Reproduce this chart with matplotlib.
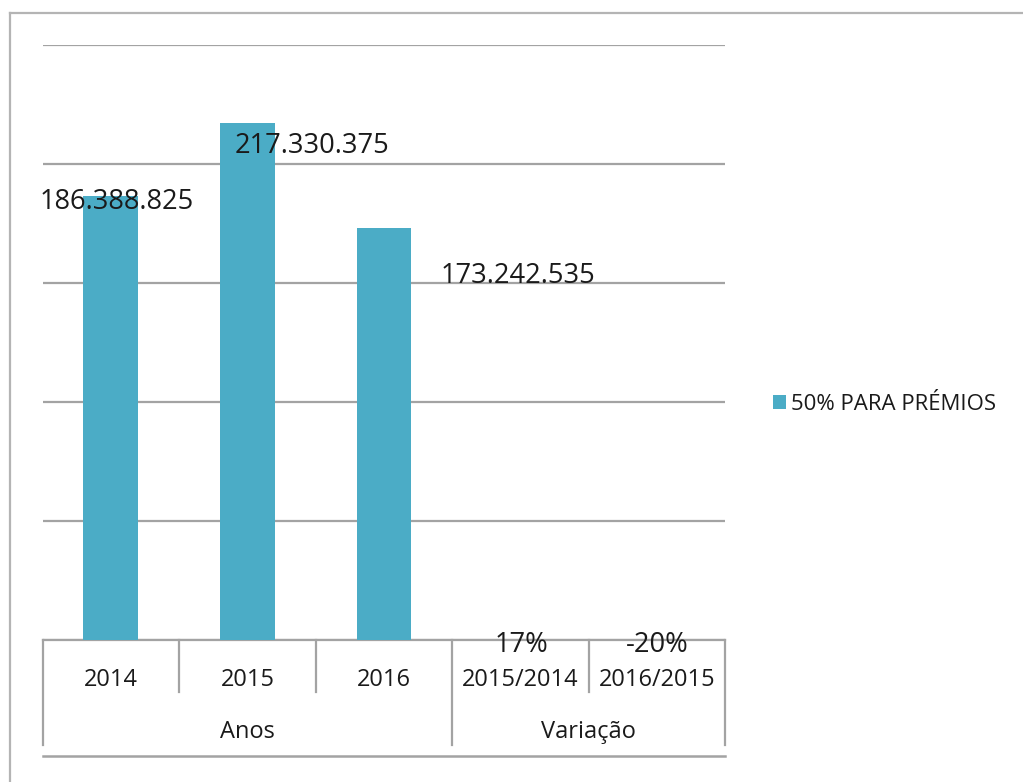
import matplotlib
matplotlib.use("Agg")
import matplotlib.pyplot as plt
from matplotlib.lines import Line2D
from matplotlib.patches import Patch

# ---- data ----
categories = ["2014", "2015", "2016", "2015/2014", "2016/2015"]
groups = ["Anos", "Variação"]
group_sizes = [3, 2]
values = [186388825, 217330375, 173242535, 0.17, -0.20]
value_labels = ["186.388.825", "217.330.375", "173.242.535", "17%", "-20%"]
series_name = "50% PARA PRÉMIOS"
y_max = 250000000
y_step = 50000000

# ---- style ----
plt.rcParams['font.family'] = ['Open Sans', 'DejaVu Sans']
bar_color = "#4BACC6"
grid_color = "#a3a3a3"
text_color = "#1a1a1a"

fig = plt.figure(figsize=(10.23, 7.82), dpi=100)
W, H = 1023, 782

# outer border (cropped frame)
fig.add_artist(Line2D([10 / W, 1.01], [1 - 13 / H, 1 - 13 / H], color="#b4b4b4", lw=1.6,
                      transform=fig.transFigure))
fig.add_artist(Line2D([10 / W, 10 / W], [1 - 13 / H, -0.01], color="#b4b4b4", lw=1.6,
                      transform=fig.transFigure))

ax_left, ax_right, ax_top, ax_bottom = 42.5, 725.5, 45, 640
ax = fig.add_axes([ax_left / W, 1 - ax_bottom / H, (ax_right - ax_left) / W, (ax_bottom - ax_top) / H])

x = list(range(len(categories)))
ax.bar(x, values, width=0.4, color=bar_color, zorder=3, label=series_name)
ax.set_xlim(-0.5, len(categories) - 0.5)
ax.set_ylim(0, y_max)
ax.set_yticks(range(0, y_max + 1, y_step))
ax.yaxis.grid(True, color=grid_color, lw=1.6, zorder=0)
ax.tick_params(axis='y', length=0, labelleft=False)
ax.set_xticks([])
for s in ["top", "right", "left"]:
    ax.spines[s].set_visible(False)
ax.spines["bottom"].set_color(grid_color)
ax.spines["bottom"].set_linewidth(1.6)

# data labels (offsets in points)
offsets = [(4.3, -9.1), (46.8, -21.7), (96.1, -39.8), (0.3, -8.6), (0, -8.6)]
for xi, v, lab, (dx, dy) in zip(x, values, value_labels, offsets):
    ax.annotate(lab, xy=(xi, max(v, 0)), xytext=(dx, dy), textcoords="offset points",
                ha="center", va="baseline", fontsize=19.6, color=text_color, zorder=5)

# multi-level category axis
span = ax_bottom - ax_top
def yf(py):
    return (ax_bottom - py) / span

tr = ax.get_xaxis_transform()
for xi, c in zip(x, categories):
    ax.text(xi, yf(686), c, transform=tr, ha="center", va="baseline",
            fontsize=17, color=text_color, clip_on=False)

# boundaries
boundaries_long = [-0.5]
pos = -0.5
group_centers = []
for g in group_sizes:
    group_centers.append(pos + g / 2)
    pos += g
    boundaries_long.append(pos)
boundaries_short = [b + 0.5 for b in x[:-1] if (b + 0.5) not in boundaries_long]

for b in boundaries_short:
    ax.add_line(Line2D([b, b], [0, yf(692)], transform=tr, color=grid_color, lw=1.6, clip_on=False))
for b in boundaries_long:
    ax.add_line(Line2D([b, b], [0, yf(745)], transform=tr, color=grid_color, lw=1.6, clip_on=False))
ax.add_line(Line2D([-0.5, len(categories) - 0.5], [yf(756), yf(756)], transform=tr,
                   color=grid_color, lw=1.8, clip_on=False))

for gc, g in zip(group_centers, groups):
    ax.text(gc, yf(738), g, transform=tr, ha="center", va="baseline",
            fontsize=17, color=text_color, clip_on=False)

# legend
handle = Patch(facecolor=bar_color, edgecolor="none")
fs = 16
px_per_em = fs * 100 / 72
fig.legend([handle], [series_name], loc="center left",
           bbox_to_anchor=(773 / W, 1 - 404 / H), frameon=False, fontsize=fs,
           handlelength=13 / px_per_em, handleheight=13 / px_per_em,
           handletextpad=5 / px_per_em, borderpad=0, borderaxespad=0,
           labelcolor=text_color)

fig.savefig("out.png", dpi=100)
